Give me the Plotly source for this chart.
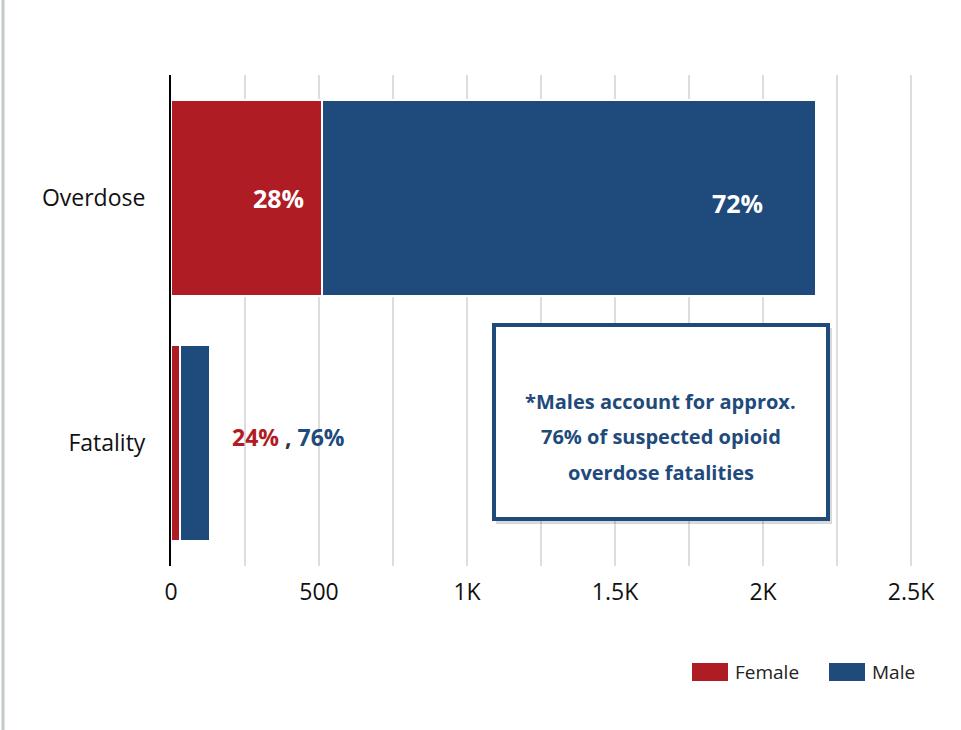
import plotly.graph_objects as go

categories = ["Overdose", "Fatality"]
series_names = ["Female", "Male"]
female_values = [510, 31]
male_values = [1669, 100]
overdose_pct_labels = ["28%", "72%"]
fatality_pct_labels = ["24%", "76%"]
x_tickvals = [0, 500, 1000, 1500, 2000, 2500]
x_ticktext = ["0", "500", "1K", "1.5K", "2K", "2.5K"]
note_lines = ["*Males account for approx.", "76% of suspected opioid", "overdose fatalities"]

RED = "#B01C24"
BLUE = "#1F4A7C"
FONT = "Open Sans"

# plot-area geometry in pixels (for paper-coordinate conversions)
PL, PR, PT, PB = 171, 914, 75, 566
PW, PH = PR - PL, PB - PT


def px(x):
    return (x - PL) / PW


def py(y):
    return (PB - y) / PH


fig = go.Figure()
for name, vals, col in [(series_names[0], female_values, RED), (series_names[1], male_values, BLUE)]:
    fig.add_trace(go.Bar(
        y=categories, x=vals, name=name, orientation="h",
        marker=dict(color=col, line=dict(color="white", width=2)),
        showlegend=False, hoverinfo="x+name",
    ))

# percentage labels on overdose bar
fig.add_annotation(x=female_values[0] - 55, y=categories[0], text="<b>%s</b>" % overdose_pct_labels[0],
                   xanchor="right", showarrow=False, font=dict(family=FONT, size=25, color="white"))
fig.add_annotation(x=female_values[0] + male_values[0] - 172, y=categories[0], text="<b>%s</b>" % overdose_pct_labels[1],
                   xanchor="right", showarrow=False, font=dict(family=FONT, size=25, color="white"), yshift=-5)
# fatality labels
fig.add_annotation(x=198, y=categories[1],
                   text="<b><span style='color:%s'>%s</span> <span style='color:#333333'>,</span> <span style='color:%s'>%s</span></b>"
                        % (RED, fatality_pct_labels[0], BLUE, fatality_pct_labels[1]),
                   xanchor="left", showarrow=False, font=dict(family=FONT, size=23), yshift=6)

# note box (shadow + box)
fig.add_shape(type="rect", xref="paper", yref="paper",
              x0=px(496), x1=px(832), y0=py(524), y1=py(328),
              fillcolor="rgba(0,0,0,0.15)", line=dict(width=0), layer="above")
fig.add_shape(type="rect", xref="paper", yref="paper",
              x0=px(494), x1=px(828), y0=py(519), y1=py(325),
              fillcolor="white", line=dict(color=BLUE, width=4), layer="above")
for line, yy in zip(note_lines, [401, 437, 472]):
    fig.add_annotation(xref="paper", yref="paper", x=px(660.5), y=py(yy),
                       text="<b>%s</b>" % line,
                       showarrow=False, align="center", xanchor="center", yanchor="middle",
                       font=dict(family=FONT, size=20, color=BLUE))

# custom legend
legend_items = [(series_names[0], RED, 692), (series_names[1], BLUE, 829)]
for name, col, lx in legend_items:
    fig.add_shape(type="rect", xref="paper", yref="paper",
                  x0=px(lx), x1=px(lx + 36), y0=py(681), y1=py(663),
                  fillcolor=col, line=dict(width=0))
    fig.add_annotation(xref="paper", yref="paper", x=px(lx + 41), y=py(672),
                       text=name, showarrow=False, xanchor="left", yanchor="middle",
                       font=dict(family=FONT, size=19, color="#222222"))

# left page border line
fig.add_shape(type="line", xref="paper", yref="paper",
              x0=px(3), x1=px(3), y0=py(730), y1=py(0),
              line=dict(color="#C4C8C8", width=3))

fig.update_layout(
    width=961, height=730,
    margin=dict(l=PL, r=961 - PR, t=PT, b=730 - PB),
    barmode="stack", bargap=0.2,
    plot_bgcolor="white", paper_bgcolor="white",
    font=dict(family=FONT, size=23, color="#111111"),
    xaxis=dict(range=[0, 2510], tickvals=x_tickvals, ticktext=x_ticktext,
               showgrid=True, gridcolor="#DDDDDD", gridwidth=2,
               minor=dict(dtick=250, showgrid=True, gridcolor="#DDDDDD", gridwidth=2),
               zeroline=False, showline=False, ticks="", ticklabelstandoff=10,
               tickfont=dict(family=FONT, size=23, color="#111111"), fixedrange=True),
    yaxis=dict(autorange="reversed", showline=True, linecolor="black", linewidth=2,
               ticks="", ticklabelstandoff=19, showgrid=False,
               tickfont=dict(family=FONT, size=23, color="#111111"), fixedrange=True),
)

fig.write_html("out.html", config={"displayModeBar": False},
               post_script="document.body.style.margin='0';document.body.style.overflow='hidden';")
